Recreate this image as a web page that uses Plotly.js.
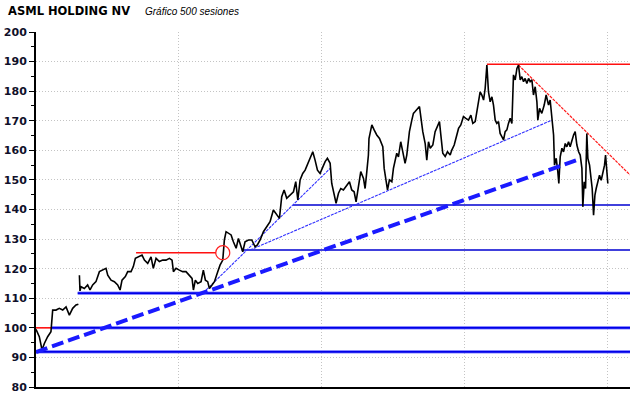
<!DOCTYPE html>
<html>
<head>
<meta charset="utf-8">
<script src="https://cdn.plot.ly/plotly-3.0.1.min.js"></script>
<style>
html,body{margin:0;padding:0;background:#fff;}
#chart{width:640px;height:398px;}
</style>
</head>
<body>
<div id="chart"></div>
<script>
// Price series (session index, price); null = data gap
const priceX = [0,2.9,5.3,7.3,10.2,13.1,14.6,17.5,20.4,23.4,26.3,29.2,32.1,35.0,37.1,37.6,
38,38.5,39.4,42.3,45.2,47.3,49.6,52.5,55.5,58.4,61.3,62.8,65.7,68.6,71.5,73.6,75.3,78.2,80.3,83.2,85.2,87.0,89.9,92.8,94.9,97.8,100.7,102.7,105.1,108.0,110.9,113.8,116.8,119.1,120.3,122.6,125.5,128.4,131.3,134.3,136.6,137.8,139.5,141.6,144.5,146.5,148.3,150.3,151.8,154.1,156.2,159.1,161.1,163.5,164.9,166.4,168.7,170.8,
172.8,175.2,177.2,179.2,181.0,183.0,186.0,188.9,191.8,193.8,196.2,199.1,202.0,204.9,207.8,210.8,213.1,215.1,217.2,219.5,222.4,225.4,227.4,229.2,231.2,233.5,235.6,237.6,240.0,242.3,244.3,246.4,248.7,251.0,253.1,255.1,257.5,258.9,261.0,262.7,264.8,266.8,269.1,272.1,274.4,276.4,278.5,280.2,282.3,284.3,286.7,288.1,289.6,
291.0,291.5,294.0,296.0,298.3,300.7,302.7,303.6,304.8,306.5,307.7,309.4,311.5,312.9,314.4,315.8,317.3,319.3,321.1,323.1,324.6,326.9,329.0,330.4,331.9,333.9,335.7,
338.6,340.7,342.1,343.6,345.1,347.4,349.4,351.5,353.2,354.4,356.1,358.2,360.2,362.6,364.0,366.1,367.8,369.9,371.9,374.2,376.3,378.6,380.7,382.4,384.5,385.9,387.4,388.8,390.3,391.8,393.2,394.7,396.1,397.6,399.1,400.5,402.0,403.4,404.9,406.3,407.8,409.3,410.7,412.2,413.6,415.1,416.6,418.0,419.5,421.0,422.4,423.9,425.3,426.8,428.2,429.7,431.2,432.6,434.1,435.5,437.0,438.5,439.3,440.8,442.8,444.9,446.6,448.7,450.1,451.6,453.1,453.9,455.4,456.8,457.7,458.9,460.4,461.8,463.3,464.7,466.2,467.6,469.1,470.6,472.0,473.5,475.0,476.4,477.9,478.7,479.9,481.1,482.2,483.1,484.6,485.8,486.9,488.1,489.3,490.4,491.6,493.3,494.8,496.3,497.7,498.6,499.8,500.6];
const priceY = [99.5,97,92.5,94.7,97,98.7,106,106,106.6,106,107.1,104.3,106.6,107.7,108,null,
117.8,112.5,113.9,113.3,114.5,112.8,114.5,115.6,119,119.5,120.1,117.8,116.1,115.6,114.5,112.8,116.1,117.3,119,119,120.7,123.5,124.0,124.6,122.9,121.8,124.0,120.1,123.5,122.4,122.9,122.9,123.5,122.9,119,120.1,119.5,119,119,117.8,116.7,112.8,116.1,115,115.6,119.5,116.1,115.6,113.3,114.5,115.6,119,121.2,122.9,129.7,132.5,132,131.4,
129.1,126.9,130.2,128,125.7,129.1,129.7,129.7,127.4,128,129.7,132.5,134.2,135.9,139.8,138.1,137,144.3,146.6,143.8,144.9,146,149.4,143.2,150,152.2,153.3,155,157.3,159.5,156.7,153.3,152.2,154.5,156.2,157.3,155.6,148.8,145.5,142.1,145.5,147.1,146.6,148.3,149.4,146.6,146,142.6,148.8,152.8,150.5,147.1,152.8,
158.4,164,168.6,166.9,165.2,164,162.4,161.2,153.9,150,146.6,150,149.4,153.9,156.2,159,157.8,162.9,159.5,155.6,158.4,166.3,170.2,172.5,173.1,174.2,174.8,
166.3,162.3,156.7,162.9,160.7,161.8,166.3,168.6,169.7,165.2,159,157.9,159.5,158.4,160.1,161.8,164.6,167.4,168.6,171.4,170.8,170.2,171.9,169.1,169.7,173.1,176.4,179.8,178.7,177,180.9,188.8,179.8,176.4,178.1,175.3,170.2,169.1,169.7,165.7,164.6,163.5,166.3,166.9,169.1,170.8,169.1,185.5,183.8,187.7,188.8,183.8,184.9,183.2,184.3,182.6,184.3,183.2,183.8,178.7,181.5,176.4,170.2,174.2,172.5,175.3,178.7,175.3,177,170.8,165.2,155,157.3,152.8,148.8,157.8,160.7,159.5,162.3,161.2,162.9,161.2,163.5,165.2,166.3,161.8,159.5,158.4,153.9,140.9,149.4,147.1,165.7,157.3,155,150.5,147.1,138.1,144.9,147.1,149.4,151.6,149.9,152.8,155,158.4,153.9,148.8];

// Support / resistance levels (price) with session start and end
const blueLevels = [91.9, 100, 111.7];
const blueStart = [0, 14, 36.5];
const blueEnd = [520, 520, 520];
const thinLevels = [126.3, 141.5];
const thinStart = [180, 225];
const thinEnd = [520, 520];
const redLevels = [100, 125.4, 189.1];
const redStart = [0, 87.6, 394.7];
const redEnd = [14, 157.6, 520];

// Trend lines: [start session, end session], [start price, end price]
const mainTrendX = [0, 476.4];
const mainTrendY = [91.8, 157.1];
const thinTrendX = [[149, 257.5], [187.4, 451.6]];
const thinTrendY = [[112.8, 153.9], [126.3, 170.2]];
const downTrendX = [422.4, 520];
const downTrendY = [188.8, 151.7];

// Breakout marker
const breakX = [163.5];
const breakY = [125.4];

const traces = [];
blueLevels.forEach((v, i) => {
  traces.push({x: [blueStart[i], blueEnd[i]], y: [v, v], mode: 'lines',
    line: {color: '#8a8aff', width: 3.5}, hoverinfo: 'skip'});
  traces.push({x: [blueStart[i], blueEnd[i]], y: [v, v], mode: 'lines',
    line: {color: '#0000e8', width: 1.8}, hoverinfo: 'skip'});
});
thinLevels.forEach((v, i) => {
  traces.push({x: [thinStart[i], thinEnd[i]], y: [v, v], mode: 'lines',
    line: {color: '#0000d0', width: 1.5}, hoverinfo: 'skip'});
});
redLevels.forEach((v, i) => {
  traces.push({x: [redStart[i], redEnd[i]], y: [v, v], mode: 'lines',
    line: {color: '#ff1010', width: 1.6}, hoverinfo: 'skip'});
});
thinTrendX.forEach((xs, i) => {
  traces.push({x: xs, y: thinTrendY[i], mode: 'lines',
    line: {color: '#3030ff', width: 1.1, dash: '3px,1px'}, hoverinfo: 'skip'});
});
traces.push({x: downTrendX, y: downTrendY, mode: 'lines',
  line: {color: '#ff1a1a', width: 1.2, dash: '3px,1px'}, hoverinfo: 'skip'});
traces.push({x: priceX, y: priceY, mode: 'lines', connectgaps: false,
  line: {color: '#000000', width: 1.6}, hoverinfo: 'skip'});
traces.push({x: mainTrendX, y: mainTrendY, mode: 'lines',
  line: {color: '#1a1aff', width: 4, dash: '12px,5px'}, hoverinfo: 'skip'});
traces.push({x: breakX, y: breakY, mode: 'markers',
  marker: {symbol: 'circle-open', size: 14, color: '#ff2020', line: {width: 1.2, color: '#ff2020'}},
  hoverinfo: 'skip'});

const layout = {
  width: 640, height: 398,
  margin: {l: 36, r: 10, t: 32, b: 11, pad: 0},
  paper_bgcolor: '#ffffff', plot_bgcolor: '#ffffff',
  showlegend: false, hovermode: false,
  title: {text: 'ASML HOLDING NV', x: 8/640, xref: 'container', xanchor: 'left',
    y: 1 - 11/398, yref: 'container', yanchor: 'middle',
    font: {family: 'DejaVu Sans', size: 11.5, color: '#000000', weight: 'bold'}},
  annotations: [{text: 'Gráfico 500 sesiones', xref: 'paper', yref: 'paper',
    x: (143-36)/594, y: (387-11)/355, xanchor: 'left', yanchor: 'middle', showarrow: false,
    font: {family: 'Liberation Sans', size: 10, color: '#000000', style: 'italic'}}],
  xaxis: {range: [0, 520], showticklabels: false, ticks: '',
    tickvals: [0, 125, 250, 375, 500], showgrid: true, gridcolor: '#c4c4c4', griddash: '1px,2px', gridwidth: 1,
    showline: true, linecolor: '#000000', linewidth: 2, zeroline: false, fixedrange: true},
  yaxis: {range: [80, 200], tickvals: [80,90,100,110,120,130,140,150,160,170,180,190,200],
    ticks: 'outside', ticklen: 5, tickcolor: '#000000', tickwidth: 1,
    minor: {tickvals: [85,95,105,115,125,135,145,155,165,175,185,195], ticks: 'outside', ticklen: 3, tickcolor: '#000000', showgrid: false},
    showgrid: true, gridcolor: '#c4c4c4', griddash: '1px,2px', gridwidth: 1,
    showline: true, linecolor: '#000000', linewidth: 2, zeroline: false, fixedrange: true,
    tickfont: {family: 'DejaVu Sans', size: 11, color: '#10102a', weight: 'bold'}}
};

Plotly.newPlot('chart', traces, layout, {staticPlot: true, displayModeBar: false});
</script>
</body>
</html>
